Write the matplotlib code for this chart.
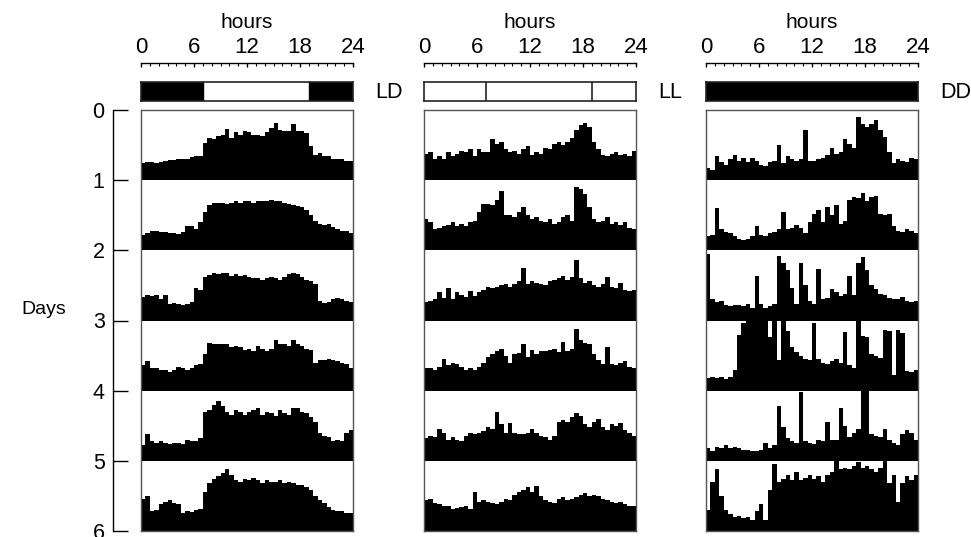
import matplotlib
matplotlib.use('Agg')
import matplotlib.pyplot as plt
import numpy as np

plt.rcParams['font.family'] = ['Liberation Sans', 'DejaVu Sans']

# ---------------- data (activity per 30-min bin, % of row height) ----------------
bin_hours = 0.5
light_on, light_off = 7, 19
hour_ticks = [0, 6, 12, 18, 24]
day_ticks = [0, 1, 2, 3, 4, 5, 6]
conditions = ["LD", "LL", "DD"]

ld_day1 = [24,26,26,25,26,27,29,29,30,30, 30,33,34,35,53,60,58,63,65,73, 60,68,65,70,68,64,65,63,68,75,
           82,71,70,70,80,70,70,67,48,36, 39,34,34,30,30,30,27,27]
ld_day2 = [22,24,27,27,26,26,25,24,23,26, 34,35,30,40,55,65,68,67,67,66, 68,70,67,70,70,68,70,71,71,72,
           70,70,68,66,65,63,62,58,50,42, 38,36,37,33,30,28,27,25]
ld_day3 = [33,36,35,36,30,36,23,25,23,22, 24,26,46,44,62,65,67,66,68,67, 64,66,63,65,62,60,60,58,60,62,
           61,58,62,66,68,66,62,58,56,52, 28,25,26,30,32,30,28,26]
ld_day4 = [37,42,33,32,30,29,27,30,34,32, 30,33,36,38,52,68,67,67,66,66, 62,64,62,58,60,56,63,60,57,60,
           72,66,66,64,72,66,64,60,58,40, 44,44,45,43,42,40,38,33]
ld_day5 = [22,38,28,26,28,25,24,26,25,24, 30,28,28,32,70,72,80,85,78,70, 66,72,70,66,70,72,76,65,70,68,
           64,72,68,66,76,76,70,68,62,56, 40,36,34,28,30,28,40,44]
ld_day6 = [45,50,28,30,38,42,44,40,38,26, 28,27,30,32,55,68,74,78,82,88, 80,72,70,74,72,76,72,68,72,70,
           70,72,68,70,68,66,66,62,58,50, 44,40,34,30,28,28,26,26]

ll_day1 = [38,40,30,34,30,40,35,38,42,40, 44,35,45,40,40,58,52,54,44,40, 42,38,45,48,36,40,38,46,44,52,
           54,50,55,60,72,78,82,76,55,44, 36,34,38,40,36,38,34,42]
ll_day2 = [45,40,30,32,34,36,40,34,38,35, 40,42,55,66,66,64,72,85,50,50, 48,55,62,50,44,48,42,40,45,38,
           40,48,50,42,90,88,80,62,45,40, 42,48,38,40,36,40,32,30]
ll_day3 = [26,28,30,40,32,46,30,40,36,34, 42,35,40,44,48,46,48,50,52,48, 52,56,75,52,56,54,52,50,56,58,
           60,64,58,62,86,60,54,56,50,48, 52,62,48,46,54,44,42,44]
ll_day4 = [33,32,30,34,45,36,40,38,34,30, 32,30,34,40,48,52,56,60,50,40, 52,54,66,48,58,52,56,56,58,60,
           55,70,56,60,88,72,68,66,52,44, 38,62,38,36,40,42,34,32]
ll_day5 = [32,35,34,46,40,30,34,30,28,36, 40,38,40,42,48,45,70,52,40,54, 40,38,38,40,46,40,36,34,30,36,
           56,58,56,62,68,64,52,48,56,60, 48,44,52,50,54,44,40,36]
ll_day6 = [44,46,40,38,36,35,32,33,34,36, 32,56,42,44,42,40,38,42,46,44, 52,56,58,62,56,64,50,44,42,40,
           45,48,44,46,48,52,54,50,52,50, 46,44,42,40,42,38,36,36]

dd_day1 = [18,14,34,26,22,30,36,28,32,26, 32,28,22,20,26,28,50,24,34,30, 28,30,72,28,28,30,32,36,46,38,
           40,58,52,46,90,80,76,80,86,72, 62,40,24,30,28,26,32,30]
dd_day2 = [20,22,60,30,26,24,20,16,15,16, 20,34,22,20,24,26,30,55,30,32, 36,32,24,40,52,58,40,62,50,65,
           38,42,72,76,74,82,70,76,78,52, 50,52,34,28,26,30,28,25]
dd_day3 = [95,30,26,28,22,20,22,22,20,24, 18,64,24,18,20,24,92,82,72,46, 24,82,50,28,24,74,30,32,45,40,
           35,38,64,36,82,90,72,50,45,38, 36,32,30,30,34,28,26,28]
dd_day4 = [18,20,18,20,16,20,30,80,96,100, 104,100,104,102,76,104,44,104,85,62, 55,50,45,44,96,45,40,38,42,45,
           40,84,36,33,100,78,76,52,50,46, 87,85,22,87,82,28,26,30]
dd_day5 = [18,14,20,18,22,18,20,18,16,15, 14,14,16,26,18,22,78,48,32,28, 26,98,28,26,24,30,28,56,30,30,
           75,50,34,40,46,102,100,38,36,34, 46,30,26,22,38,44,40,30]
dd_day6 = [30,70,88,50,30,24,20,22,18,20, 16,28,38,16,58,95,70,74,80,72, 84,72,76,80,74,78,70,80,84,100,
           88,90,88,92,98,90,92,88,84,90, 104,68,80,42,68,78,72,80]

ld_rows = [ld_day1, ld_day2, ld_day3, ld_day4, ld_day5, ld_day6]
ll_rows = [ll_day1, ll_day2, ll_day3, ll_day4, ll_day5, ll_day6]
dd_rows = [dd_day1, dd_day2, dd_day3, dd_day4, dd_day5, dd_day6]
all_rows = [ld_rows, ll_rows, dd_rows]

# ---------------- layout (pixels) ----------------
W, H = 971, 537
fig = plt.figure(figsize=(W / 100, H / 100), dpi=100)


def fx(px):
    return px / W


def fy(py):
    return 1 - py / H


panel_left = [141, 424, 706]
panel_w = 212
data_top, data_bot = 110, 531
strip_top, strip_bot = 82, 101
hour_line = 62.7

for i, (name, rows) in enumerate(zip(conditions, all_rows)):
    x0 = panel_left[i]
    # actogram
    ax = fig.add_axes([fx(x0), fy(data_bot), panel_w / W, (data_bot - data_top) / H])
    ax.set_xlim(0, 24)
    ax.set_ylim(6, 0)
    for d, row in enumerate(rows):
        v = np.array(row) / 100.0
        edges = np.arange(len(row) + 1) * bin_hours
        ax.stairs(d + 1 - v, edges, baseline=d + 1, fill=True,
                  color='black', linewidth=0, clip_on=False)
    ax.set_xticks([])
    ax.set_yticks([])
    for s in ax.spines.values():
        s.set_color('#555555')
        s.set_linewidth(1.0)

    # light regime strip
    sax = fig.add_axes([fx(x0), fy(strip_bot), panel_w / W, (strip_bot - strip_top) / H])
    sax.set_xlim(0, 24)
    sax.set_ylim(0, 1)
    if name == "LD":
        sax.axvspan(0, light_on, color='black')
        sax.axvspan(light_off, 24, color='black')
    elif name == "LL":
        sax.axvline(light_on, color='#222222', lw=1.2)
        sax.axvline(light_off, color='#222222', lw=1.2)
    else:
        sax.axvspan(0, 24, color='black')
    sax.set_xticks([])
    sax.set_yticks([])
    for s in sax.spines.values():
        s.set_color('#222222')
        s.set_linewidth(1.2)
    fig.text(fx(x0 + panel_w + 22), fy(92), name, ha='left', va='center', fontsize=15.5)

    # hours scale
    hax = fig.add_axes([fx(x0), fy(hour_line), panel_w / W, 5.7 / H])
    hax.patch.set_visible(False)
    hax.set_xlim(0, 24)
    hax.set_yticks([])
    for side in ['top', 'left', 'right']:
        hax.spines[side].set_visible(False)
    hax.spines['bottom'].set_linewidth(1.0)
    hax.set_xticks(hour_ticks)
    hax.set_xticks(range(25), minor=True)
    hax.tick_params(which='both', bottom=True, top=False, labelbottom=False,
                    labeltop=True, direction='out')
    hax.tick_params(which='major', length=3, width=1, pad=-3.5, labelsize=16)
    hax.tick_params(which='minor', length=1.8, width=0.8)
    hax.xaxis.set_label_position('top')
    hax.set_xlabel('hours', fontsize=15, labelpad=6.5)

# day axis
dax = fig.add_axes([fx(113), fy(data_bot), 0.001, (data_bot - data_top) / H])
dax.patch.set_visible(False)
dax.set_ylim(6, 0)
dax.set_xticks([])
for side in ['top', 'bottom', 'right']:
    dax.spines[side].set_visible(False)
dax.spines['left'].set_linewidth(1.0)
dax.set_yticks(day_ticks)
dax.tick_params(axis='y', direction='in', length=11, width=1, labelsize=15.5, pad=6)
fig.text(fx(44), fy(310), 'Days', ha='center', va='center', fontsize=14)

fig.savefig('out.png', dpi=100)
